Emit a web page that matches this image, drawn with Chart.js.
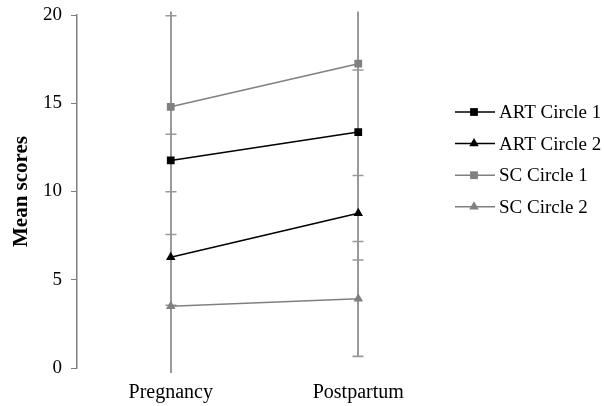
<!DOCTYPE html>
<html>
<head>
<meta charset="utf-8">
<script src="https://cdn.jsdelivr.net/npm/chart.js@4"></script>
<style>
  html, body { margin: 0; padding: 0; background: #fff; }
  #wrap { width: 604px; height: 406px; }
</style>
</head>
<body>
<div id="wrap"><canvas id="chart"></canvas></div>
<script>
// values
const timepoints = ['Pregnancy', 'Postpartum']
const seriesNames = ['ART Circle 1', 'ART Circle 2', 'SC Circle 1', 'SC Circle 2']
const artCircle1 = [11.76, 13.37]
const artCircle2 = [6.27, 8.77]
const scCircle1 = [14.8, 17.24]
const scCircle2 = [3.5, 3.92]
// symmetric error bar half-widths (SD)
const artCircle1Err = [8.2, 7.25]
const artCircle2Err = [6.97, 8.12]
const scCircle1Err = [7.24, 6.34]
const scCircle2Err = [6.48, 3.25]
const yTicks = [0, 5, 10, 15, 20]

const serif = "'Liberation Serif', 'Times New Roman', serif"
const BLACK = '#000000'
const GREY = '#808080'

function series(label, data, err, color, style) {
  return {
    label: label,
    data: data,
    errors: err,
    borderColor: color,
    backgroundColor: color,
    borderWidth: 1.5,
    pointStyle: style,
    pointRadius: 5.5,
    pointHoverRadius: 5.5,
    pointBorderWidth: 0,
    tension: 0
  }
}

// grey error bars behind the lines (one stem per category, caps per series)
const errorBars = {
  id: 'errorBars',
  beforeDatasetsDraw(chart) {
    const ctx = chart.ctx
    const area = chart.chartArea
    const x = chart.scales.x
    const y = chart.scales.y
    ctx.save()
    ctx.beginPath()
    ctx.rect(area.left, area.top - 3.5, area.right - area.left, area.bottom - area.top + 8.5)
    ctx.clip()
    ctx.strokeStyle = '#999999'
    timepoints.forEach((t, i) => {
      const px = Math.round(x.getPixelForValue(i))
      let top = Infinity
      let bottom = -Infinity
      const caps = []
      chart.data.datasets.forEach((ds) => {
        const hi = y.getPixelForValue(ds.data[i] + ds.errors[i])
        const lo = y.getPixelForValue(ds.data[i] - ds.errors[i])
        top = Math.min(top, hi)
        bottom = Math.max(bottom, lo)
        caps.push(hi, lo)
      })
      ctx.lineWidth = 2
      ctx.beginPath()
      ctx.moveTo(px, top)
      ctx.lineTo(px, bottom)
      ctx.stroke()
      ctx.lineWidth = 1.5
      ctx.beginPath()
      caps.forEach((cy) => {
        ctx.moveTo(px - 5.5, cy)
        ctx.lineTo(px + 5.5, cy)
      })
      ctx.stroke()
    })
    ctx.restore()
  }
}

// legend drawn as line + marker + label on the right
const sideLegend = {
  id: 'sideLegend',
  afterDraw(chart) {
    const ctx = chart.ctx
    const x0 = 455
    const x1 = 495
    const rows = [112, 143.6, 175.2, 206.8]
    ctx.save()
    chart.data.datasets.forEach((ds, i) => {
      const yy = rows[i]
      ctx.strokeStyle = ds.borderColor
      ctx.fillStyle = ds.backgroundColor
      ctx.lineWidth = 1.5
      ctx.beginPath()
      ctx.moveTo(x0, yy)
      ctx.lineTo(x1, yy)
      ctx.stroke()
      Chart.helpers.drawPoint(ctx, { pointStyle: ds.pointStyle, radius: 5.5, rotation: 0, borderWidth: 0 }, (x0 + x1) / 2 - 1, yy)
      ctx.fillStyle = '#000'
      ctx.font = '19px ' + serif
      ctx.textBaseline = 'middle'
      ctx.textAlign = 'left'
      ctx.fillText(ds.label, 499, yy + 1)
    })
    ctx.restore()
  }
}

new Chart(document.getElementById('chart'), {
  type: 'line',
  data: {
    labels: timepoints,
    datasets: [
      series(seriesNames[0], artCircle1, artCircle1Err, BLACK, 'rect'),
      series(seriesNames[1], artCircle2, artCircle2Err, BLACK, 'triangle'),
      series(seriesNames[2], scCircle1, scCircle1Err, GREY, 'rect'),
      series(seriesNames[3], scCircle2, scCircle2Err, GREY, 'triangle')
    ]
  },
  plugins: [errorBars, sideLegend],
  options: {
    responsive: true,
    maintainAspectRatio: false,
    animation: false,
    layout: { padding: { top: 15, right: 152, left: 0, bottom: 0 } },
    plugins: {
      legend: { display: false },
      tooltip: { enabled: false }
    },
    scales: {
      x: {
        offset: true,
        grid: { display: false, drawTicks: false },
        border: { display: false },
        ticks: { color: '#000', font: { family: serif, size: 20 }, padding: 13, maxRotation: 0 },
        afterFit: (scale) => { scale.height = 38 }
      },
      y: {
        min: 0,
        max: 20,
        afterBuildTicks: (scale) => { scale.ticks = yTicks.map((v) => ({ value: v })) },
        grid: { drawOnChartArea: false, drawTicks: true, tickLength: 6, color: GREY, lineWidth: 1 },
        border: { display: true, color: GREY, width: 1.5 },
        ticks: { color: '#000', font: { family: serif, size: 19 }, padding: 9 },
        title: {
          display: true,
          text: 'Mean scores',
          color: '#000',
          font: { family: serif, size: 21, weight: 'bold' },
          padding: { top: 9, bottom: 0 }
        },
        afterFit: (scale) => {
          scale.width = 77
          scale.paddingTop = 0
          scale.paddingBottom = 0
        }
      }
    }
  }
})
</script>
</body>
</html>
